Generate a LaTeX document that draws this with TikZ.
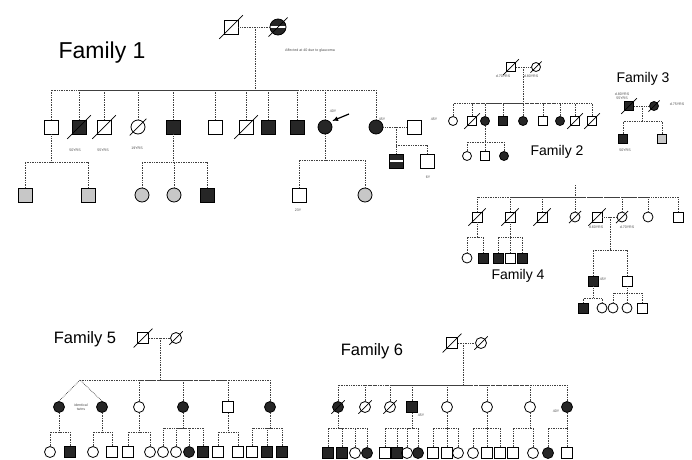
\documentclass[tikz,border=0pt]{standalone}
\usepackage{fontspec}
\setmainfont{Liberation Sans}
\usetikzlibrary{arrows.meta,calc}

\begin{document}
\begin{tikzpicture}[x=1pt, y=-1pt,
        sym/.style={draw, line width=0.8pt, inner sep=0pt},
        sq/.style={sym, rectangle},
        ci/.style={sym, circle},
        sqa/.style={sq, fill=black!85},
        cia/.style={ci, fill=black!85},
        sqg/.style={sq, fill=black!22},
        cig/.style={ci, fill=black!22},
        band/.style={path picture={\fill[white] ([yshift=-0.8pt]path picture bounding box.west) rectangle ([yshift=0.8pt]path picture bounding box.east);}},
        ln/.style={densely dotted, line width=0.7pt, black!75},
        slash/.style={line width=0.7pt},
        ttl/.style={font=\fontsize{#1}{#1}\selectfont, inner sep=0pt},
        lbl/.style={font=\fontsize{3.6}{4.2}\selectfont, align=center, inner sep=0pt, black!70}
]
    \useasboundingbox (0,0) rectangle (692,459);

    % Family 1
    \node[ttl=23] (f1t) at (102,53) {Family 1};
    \node[sq, minimum size=14pt] (f1p1) at (231,27) {};
    \node[cia, band, minimum size=16pt] (f1p2) at (278,27) {};
    \coordinate (f1m) at (255,27);
    \coordinate (f1s) at (255,90);
    \node[lbl] (f1n) at (310,51) {Affected at 40 due to glaucoma};
    \foreach \x/\s [count=\n] in {51/sq, 79/sqa, 104/sq, 138/ci, 173/sqa, 215/sq,
            246/sq, 268/sqa, 297/sqa, 325/cia, 376/cia}
        \node[\s, minimum size=14pt] (f1c\n) at (\x,127) {};
    \node[sq, minimum size=14pt] (f1sp) at (414,127) {};
    \coordinate (f1m2) at (396,127);
    \coordinate (f1s1) at (51,162);
    \coordinate (f1s5) at (173,162);
    \coordinate (f1s10) at (325,160);
    \coordinate (f1s11) at (396,145);
    \foreach \x/\y/\s [count=\n] in {25/195/sqg, 88/195/sqg, 142/195/cig, 174/195/cig,
            207/195/sqa, 299/195/sq, 365/195/cig, 427/161/sq}
        \node[\s, minimum size=14pt] (f1g\n) at (\x,\y) {};
    \node[sqa, band, minimum size=14pt] (f1g9) at (396,161) {};
    \draw[ln] (f1p1) -- (f1p2);
    \draw[ln] (f1m) -- (f1s);
    \foreach \n in {1,...,11}
        \draw[ln] (f1c\n.north) |- (f1s);
    \draw[ln] (f1c11) -- (f1sp);
    \draw[ln] (f1m2) -- (f1g9);
    \draw[ln] (f1c1) -- (f1s1);
    \draw[ln] (f1c5) -- (f1s5);
    \draw[ln] (f1c10) -- (f1s10);
    \foreach \n/\p in {1/f1s1, 2/f1s1, 3/f1s5, 4/f1s5, 5/f1s5, 6/f1s10, 7/f1s10, 8/f1s11}
        \draw[ln] (f1g\n.north) |- (\p);
    \coordinate (f1ar) at (349,114);
    \draw[-{Latex[length=6pt, width=5pt]}, line width=1.2pt, shorten >=2pt] (f1ar) -- (f1c10.north east);
    \node[lbl] (f1l1) at (75,150) {50YRS};
    \node[lbl] (f1l2) at (103,150) {55YRS};
    \node[lbl] (f1l3) at (137,148) {19YRS};
    \node[lbl] (f1l4) at (333,111) {40Y};
    \node[lbl] (f1l5) at (382,119) {45Y};
    \node[lbl] (f1l6) at (434,119) {45Y};
    \node[lbl] (f1l7) at (428,177) {6Y};
    \node[lbl] (f1l8) at (298,210) {23Y};

    % Family 2
    \node[ttl=14] (f2t) at (557,152) {Family 2};
    \node[sq, minimum size=9pt] (f2p1) at (511,67) {};
    \node[ci, minimum size=9pt] (f2p2) at (536,67) {};
    \coordinate (f2m) at (523,67);
    \coordinate (f2s) at (523,103);
    \foreach \x/\s [count=\n] in {453/ci, 472/sq, 485/cia, 503/sqa, 523/cia, 543/sq,
            560/cia, 575/sq, 592/sq}
        \node[\s, minimum size=9pt] (f2c\n) at (\x,121) {};
    \coordinate (f2s3) at (485,142);
    \foreach \x/\s [count=\n] in {467/ci, 485/sq, 504/cia}
        \node[\s, minimum size=9pt] (f2g\n) at (\x,156) {};
    \draw[ln] (f2p1) -- (f2p2);
    \draw[ln] (f2m) -- (f2s);
    \foreach \n in {1,...,9}
        \draw[ln] (f2c\n.north) |- (f2s);
    \draw[ln] (f2c3) -- (f2s3);
    \foreach \n in {1,2,3}
        \draw[ln] (f2g\n.north) |- (f2s3);
    \node[lbl] (f2l1) at (503,76) {d.70YRS};
    \node[lbl] (f2l2) at (531,76) {d.80YRS};

    % Family 3
    \node[ttl=14] (f3t) at (643,79) {Family 3};
    \node[sqa, minimum size=9pt] (f3p1) at (629,106) {};
    \node[cia, minimum size=9pt] (f3p2) at (654,106) {};
    \coordinate (f3m) at (642,106);
    \coordinate (f3s) at (642,121);
    \node[sqa, minimum size=9pt] (f3c1) at (623,139) {};
    \node[sqg, minimum size=9pt] (f3c2) at (662,139) {};
    \draw[ln] (f3p1) -- (f3p2);
    \draw[ln] (f3m) -- (f3s);
    \foreach \n in {1,2}
        \draw[ln] (f3c\n.north) |- (f3s);
    \node[lbl] (f3l1) at (622,96) {d.80YRS\\55YRS};
    \node[lbl] (f3l2) at (677,104) {d.75YRS};
    \node[lbl] (f3l3) at (625,150) {50YRS};

    % Family 4
    \node[ttl=14] (f4t) at (518,276) {Family 4};
    \coordinate (f4top) at (575,185);
    \coordinate (f4s) at (575,197);
    \foreach \x/\s [count=\n] in {477/sq, 510/sq, 542/sq, 575/ci, 622/ci, 648/ci, 678/sq}
        \node[\s, minimum size=10pt] (f4c\n) at (\x,217) {};
    \node[sq, minimum size=10pt] (f4sp) at (597,217) {};
    \coordinate (f4m) at (610,217);
    \coordinate (f4s1) at (477,237);
    \coordinate (f4s2) at (510,237);
    \coordinate (f4s5) at (610,250);
    \foreach \x/\s [count=\n] in {467/ci, 483/sqa, 498/sqa, 510/sq, 522/sqa}
        \node[\s, minimum size=10pt] (f4g\n) at (\x,258) {};
    \node[sqa, minimum size=10pt] (f4h1) at (593,281) {};
    \node[sq, minimum size=10pt] (f4h2) at (627,281) {};
    \coordinate (f4t1) at (593,298);
    \coordinate (f4t2) at (627,293);
    \foreach \x/\s [count=\n] in {583/sqa, 602/ci, 613/ci, 627/ci, 642/sq}
        \node[\s, minimum size=10pt] (f4k\n) at (\x,308) {};
    \draw[ln] (f4top) -- (f4s);
    \foreach \n in {1,...,7}
        \draw[ln] (f4c\n.north) |- (f4s);
    \draw[ln] (f4sp) -- (f4c5);
    \draw[ln] (f4m) -- (f4s5);
    \draw[ln] (f4c1) -- (f4s1);
    \draw[ln] (f4c2) -- (f4s2);
    \foreach \n/\p in {1/f4s1, 2/f4s1, 3/f4s2, 4/f4s2, 5/f4s2}
        \draw[ln] (f4g\n.north) |- (\p);
    \foreach \n in {1,2}
        \draw[ln] (f4h\n.north) |- (f4s5);
    \draw[ln] (f4h1) -- (f4t1);
    \draw[ln] (f4h2) -- (f4t2);
    \foreach \n/\p in {1/f4t1, 2/f4t1, 3/f4t2, 4/f4t2, 5/f4t2}
        \draw[ln] (f4k\n.north) |- (\p);
    \node[lbl] (f4l1) at (596,227) {d.60YRS};
    \node[lbl] (f4l2) at (627,227) {d.70YRS};
    \node[lbl] (f4l3) at (603,279) {45Y};

    % Family 5
    \node[ttl=16.5] (f5t) at (85,339) {Family 5};
    \node[sq, minimum size=11pt] (f5p1) at (143,338) {};
    \node[ci, minimum size=11pt] (f5p2) at (176,338) {};
    \coordinate (f5m) at (160,338);
    \coordinate (f5s) at (160,380);
    \coordinate (f5tw) at (80,380);
    \foreach \x/\s [count=\n] in {59/cia, 102/cia, 139/ci, 183/cia, 228/sq, 270/cia}
        \node[\s, minimum size=11pt] (f5c\n) at (\x,407) {};
    \node[lbl] (f5l1) at (81,407) {identical\\twins};
    \foreach \n/\x/\y in {1/59/432, 2/102/432, 3/139/432, 4/183/428, 5/228/432, 6/270/428}
        \coordinate (f5s\n) at (\x,\y);
    \foreach \x/\s [count=\n] in {50/ci, 70/sqa, 93/ci, 112/sq, 128/sq, 150/ci, 163/ci,
            176/ci, 189/cia, 203/sqa, 218/sq, 238/sq, 252/sq, 267/sqa, 282/sqa}
        \node[\s, minimum size=11pt] (f5g\n) at (\x,452) {};
    \draw[ln] (f5p1) -- (f5p2);
    \draw[ln] (f5m) -- (f5s);
    \draw[ln] (f5tw) -- (f5s);
    \draw[ln] (f5c1.north) -- (f5tw) -- (f5c2.north);
    \foreach \n in {3,...,6}
        \draw[ln] (f5c\n.north) |- (f5s);
    \foreach \n in {1,...,6}
        \draw[ln] (f5c\n) -- (f5s\n);
    \foreach \n/\p in {1/1, 2/1, 3/2, 4/2, 5/3, 6/3, 7/4, 8/4, 9/4, 10/4,
            11/5, 12/5, 13/6, 14/6, 15/6}
        \draw[ln] (f5g\n.north) |- (f5s\p);

    % Family 6
    \node[ttl=16.5] (f6t) at (372,351) {Family 6};
    \node[sq, minimum size=11pt] (f6p1) at (452,343) {};
    \node[ci, minimum size=11pt] (f6p2) at (481,343) {};
    \coordinate (f6m) at (463,343);
    \coordinate (f6s) at (463,385);
    \foreach \x/\s [count=\n] in {338/cia, 365/ci, 390/ci, 412/sqa, 447/ci, 487/ci,
            530/ci, 567/cia}
        \node[\s, minimum size=11pt] (f6c\n) at (\x,407) {};
    \foreach \n in {1,...,8}
        \coordinate (f6s\n) at ($(f6c\n)+(0,21)$);
    \foreach \x/\s [count=\n] in {328/sqa, 342/sqa, 355/ci, 367/cia, 385/sq, 397/sqa,
            407/ci, 418/cia, 433/sq, 447/sq, 458/ci, 473/ci, 487/sq, 500/sq,
            513/sq, 533/ci, 548/cia, 567/sq}
        \node[\s, minimum size=11pt] (f6g\n) at (\x,453) {};
    \draw[ln] (f6p1) -- (f6p2);
    \draw[ln] (f6m) -- (f6s);
    \foreach \n in {1,...,8}
        \draw[ln] (f6c\n.north) |- (f6s);
    \foreach \n in {1,4,5,6,7,8}
        \draw[ln] (f6c\n) -- (f6s\n);
    \foreach \n/\p in {1/1, 2/1, 3/1, 4/1, 5/4, 6/4, 7/4, 8/4, 9/5, 10/5, 11/5,
            12/6, 13/6, 14/6, 15/7, 16/7, 17/8, 18/8}
        \draw[ln] (f6g\n.north) |- (f6s\p);
    \node[lbl] (f6l1) at (421,415) {45Y};
    \node[lbl] (f6l2) at (556,411) {40Y};

    % deceased
    \foreach \n in {f1p1, f1p2, f1c2, f1c3, f1c4, f1c7, f2p1, f2p2, f2c2, f2c8, f2c9,
            f3p1, f3p2, f4c1, f4c2, f4c3, f4c4, f4c5, f4sp, f5p1, f5p2,
            f6p1, f6p2, f6c1, f6c2, f6c3}
        \draw[slash] ($(\n.south west)!-0.3!(\n.north east)$) -- ($(\n.north east)!-0.3!(\n.south west)$);
\end{tikzpicture}
\end{document}
